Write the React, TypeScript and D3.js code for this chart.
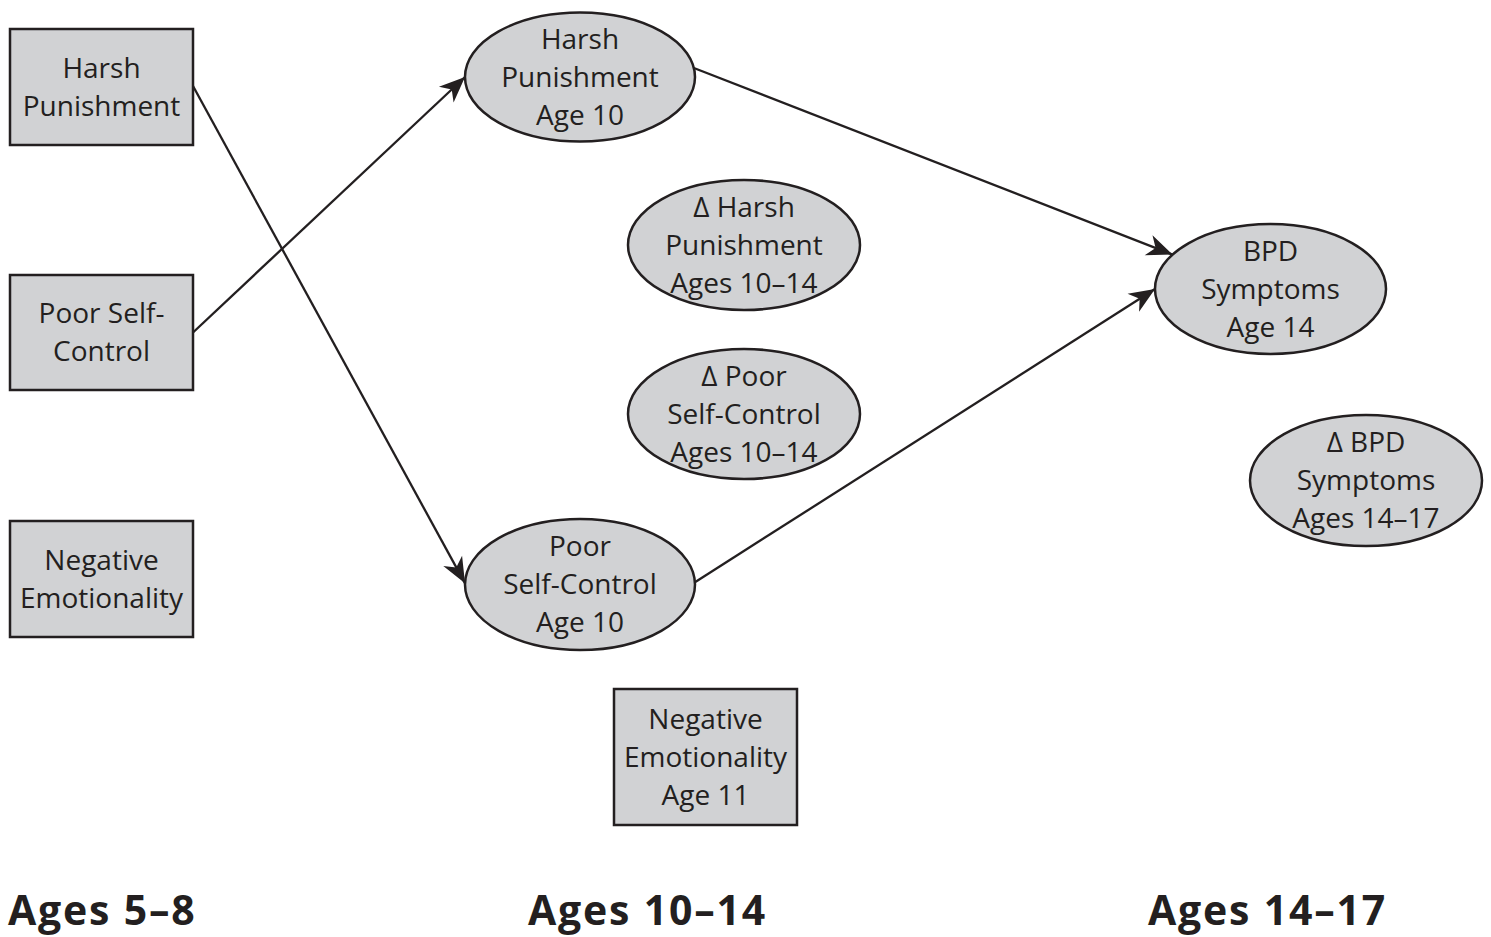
import React from "react";
import * as d3 from "d3";

const W = 1491;
const H = 937;

// Node labels (lines)
const nodeIds = ["hp58", "psc58", "ne58", "hp10", "dhp", "dpsc", "psc10", "ne11", "bpd14", "dbpd"];
const nodeLabels: string[][] = [
  ["Harsh", "Punishment"],
  ["Poor Self-", "Control"],
  ["Negative", "Emotionality"],
  ["Harsh", "Punishment", "Age 10"],
  ["\u0394 Harsh", "Punishment", "Ages 10\u201314"],
  ["\u0394 Poor", "Self-Control", "Ages 10\u201314"],
  ["Poor", "Self-Control", "Age 10"],
  ["Negative", "Emotionality", "Age 11"],
  ["BPD", "Symptoms", "Age 14"],
  ["\u0394 BPD", "Symptoms", "Ages 14\u201317"],
];
const nodeShapes = ["rect", "rect", "rect", "ellipse", "ellipse", "ellipse", "ellipse", "rect", "ellipse", "ellipse"];

// Edges: source -> target
const edgeSources = ["hp58", "psc58", "hp10", "psc10"];
const edgeTargets = ["psc10", "hp10", "bpd14", "bpd14"];

const periodLabels = ["Ages 5\u20138", "Ages 10\u201314", "Ages 14\u201317"];

// ---- layout (positions/sizes) ----
const layout: Record<string, { cx: number; cy: number; w: number; h: number }> = {
  hp58: { cx: 101.5, cy: 87, w: 183, h: 116 },
  psc58: { cx: 101.5, cy: 332.5, w: 183, h: 115 },
  ne58: { cx: 101.5, cy: 579, w: 183, h: 116 },
  hp10: { cx: 580, cy: 77, w: 230, h: 129 },
  dhp: { cx: 744, cy: 245, w: 232, h: 130 },
  dpsc: { cx: 744, cy: 414, w: 232, h: 130 },
  psc10: { cx: 580, cy: 584.5, w: 230, h: 131 },
  ne11: { cx: 705.5, cy: 757, w: 183, h: 136 },
  bpd14: { cx: 1270.5, cy: 289, w: 231, h: 130 },
  dbpd: { cx: 1366, cy: 480.5, w: 232, h: 131 },
};
// anchor angles (deg, y-down) on each end of edges
const edgeSrcAngles = [-1, 0, -8, -2];
const edgeTgtAngles = [181, 180, 212, 180];
const periodX = [8, 528, 1148];

const FILL = "#d1d2d4";
const INK = "#231f20";
const FONT = "'Open Sans', 'Noto Sans', sans-serif";

function anchor(id: string, deg: number) {
  const n = layout[id];
  const idx = nodeIds.indexOf(id);
  const a = (deg * Math.PI) / 180;
  if (nodeShapes[idx] === "ellipse") {
    return [n.cx + (n.w / 2) * Math.cos(a), n.cy + (n.h / 2) * Math.sin(a)];
  }
  const sx = Math.cos(a) >= 0 ? n.cx + n.w / 2 : n.cx - n.w / 2;
  return [sx, n.cy + (n.h / 2) * Math.sin(a)];
}

export default function App() {
  const line = d3.line();
  return (
    <svg width={W} height={H} style={{ position: "absolute", left: 0, top: 0, background: "#fff" }}>
      <defs>
        <marker id="arr" markerUnits="userSpaceOnUse" markerWidth={30} markerHeight={30} viewBox="-26 -12 28 24" refX={0} refY={0} orient="auto">
          <path d="M0,0 L-24,-10 L-17,0 L-24,10 Z" fill={INK} />
        </marker>
      </defs>
      {edgeSources.map((s, i) => {
        const p0 = anchor(s, edgeSrcAngles[i]) as [number, number];
        const p1 = anchor(edgeTargets[i], edgeTgtAngles[i]) as [number, number];
        return <path key={i} d={line([p0, p1]) || ""} stroke={INK} strokeWidth={2.3} fill="none" markerEnd="url(#arr)" />;
      })}
      {nodeIds.map((id, i) => {
        const n = layout[id];
        const lines = nodeLabels[i];
        const lh = 38;
        const y0 = n.cy - ((lines.length - 1) * lh) / 2;
        return (
          <g key={id}>
            {nodeShapes[i] === "rect" ? (
              <rect x={n.cx - n.w / 2} y={n.cy - n.h / 2} width={n.w} height={n.h} fill={FILL} stroke={INK} strokeWidth={2.5} />
            ) : (
              <ellipse cx={n.cx} cy={n.cy} rx={n.w / 2} ry={n.h / 2} fill={FILL} stroke={INK} strokeWidth={2.5} />
            )}
            {lines.map((t, j) => (
              <text key={j} x={n.cx} y={y0 + j * lh} dy="0.35em" textAnchor="middle" fontFamily={FONT} fontSize={28} fill={INK}>
                {t}
              </text>
            ))}
          </g>
        );
      })}
      {periodLabels.map((t, i) => (
        <text key={t} x={periodX[i]} y={925} fontFamily={FONT} fontWeight={700} fontSize={41} letterSpacing={1.8} fill={INK}>
          {t}
        </text>
      ))}
    </svg>
  );
}
